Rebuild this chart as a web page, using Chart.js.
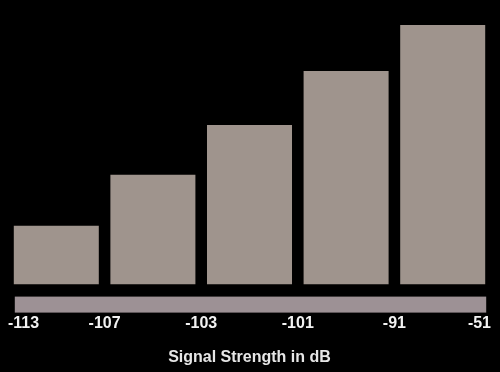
<!DOCTYPE html>
<html>
<head>
<meta charset="utf-8">
<script src="https://cdn.jsdelivr.net/npm/chart.js@4"></script>
<style>
html,body{margin:0;padding:0;background:#000;}
#wrap{width:500px;height:372px;position:relative;}
</style>
</head>
<body>
<div id="wrap"><canvas id="c"></canvas></div>
<script>
const categories = ['1', '2', '3', '4', '5'];
const barValues = [22.7, 42.3, 61.5, 82.3, 100];
const tickLabels = ['-113', '-107', '-103', '-101', '-91', '-51'];
const axisTitle = 'Signal Strength in dB';

const stripPlugin = {
  id: 'strip',
  beforeDatasetsDraw(chart) {
    const meta = chart.getDatasetMeta(0);
    const first = meta.data[0], last = meta.data[meta.data.length - 1];
    const l = first.x - first.width / 2, r = last.x + last.width / 2;
    const ctx = chart.ctx;
    const b = chart.chartArea.bottom;
    ctx.save();
    ctx.fillStyle = '#9d9195';
    ctx.fillRect(l + 1, b + 12, r - l, 16);
    ctx.restore();
  }
};

new Chart(document.getElementById('c'), {
  type: 'bar',
  data: {
    labels: categories,
    datasets: [{
      data: barValues,
      backgroundColor: '#9f948d',
      borderWidth: 0,
      barPercentage: 0.88,
      categoryPercentage: 1.0,
      xAxisID: 'x'
    }]
  },
  options: {
    responsive: true,
    maintainAspectRatio: false,
    animation: false,
    layout: { padding: { top: 25, left: 8, right: 9, bottom: 0 } },
    plugins: {
      legend: { display: false },
      tooltip: { enabled: false },
      title: {
        display: true,
        text: axisTitle,
        position: 'bottom',
        color: '#e6e6e6',
        font: { family: 'Liberation Sans', size: 16, weight: 'bold' },
        padding: { top: 12, bottom: 5 }
      }
    },
    scales: {
      x: { display: false },
      x2: {
        type: 'category',
        labels: tickLabels,
        position: 'bottom',
        offset: false,
        grid: { display: true, drawOnChartArea: false, drawTicks: true, tickLength: 26, color: 'rgba(0,0,0,0)' },
        border: { display: false },
        ticks: {
          align: 'inner',
          autoSkip: false,
          maxRotation: 0,
          padding: 3,
          color: '#f2f2f2',
          font: { family: 'Liberation Sans', size: 16, weight: 'bold' }
        }
      },
      y: { display: false, min: 0, max: 100 }
    }
  },
  plugins: [stripPlugin]
});
</script>
</body>
</html>
